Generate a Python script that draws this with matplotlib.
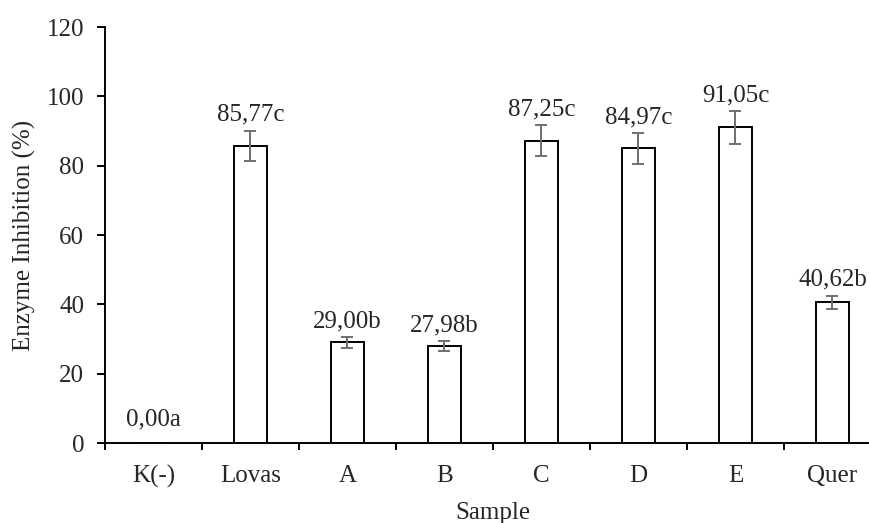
import matplotlib
matplotlib.use("Agg")
import matplotlib.pyplot as plt

plt.rcParams['font.family'] = ['Liberation Serif', 'DejaVu Serif']

categories = ["K(-)", "Lovas", "A", "B", "C", "D", "E", "Quer"]
values = [0.00, 85.77, 29.00, 27.98, 87.25, 84.97, 91.05, 40.62]
errors = [0.0, 4.3, 1.5, 1.3, 4.4, 4.4, 4.7, 1.9]
labels = ["0,00a", "85,77c", "29,00b", "27,98b", "87,25c", "84,97c", "91,05c", "40,62b"]
y_ticks = [0, 20, 40, 60, 80, 100, 120]

FS = 18
TXT = '#262626'
W, H = 870, 523
fig = plt.figure(figsize=(W / 100, H / 100), dpi=100)
ax = fig.add_axes([105 / W, (H - 443) / H, 776 / W, 416 / H])

x = list(range(len(categories)))
ax.bar(x, values, width=0.33, color='white', edgecolor='black', linewidth=1.4, zorder=2)
ex = [xi for xi, e in zip(x, errors) if e > 0]
ev = [v for v, e in zip(values, errors) if e > 0]
ee = [e for e in errors if e > 0]
ax.errorbar(ex, ev, yerr=ee, fmt='none', ecolor='#6e6e6e', elinewidth=1.4,
            capsize=4.5, capthick=1.4, zorder=3)

for xi, v, e, lab in zip(x, values, errors, labels):
    off = 3.5 if e > 0 else 9.0
    ax.annotate(lab, (xi, v + e), xytext=(0, off), textcoords='offset points',
                ha='center', va='bottom', fontsize=FS, color=TXT)

ax.set_xlim(-0.5, len(categories) - 0.5)
ax.set_ylim(0, 120)
ax.set_yticks(y_ticks)
ax.set_xticks(x)
ax.set_xticklabels(categories)
ax.set_xticks([i - 0.5 for i in range(len(categories) + 1)], minor=True)
ax.tick_params(axis='x', which='major', length=0, pad=16, labelsize=FS, labelcolor=TXT)
ax.tick_params(axis='x', which='minor', length=5, width=1.4, direction='out')
ax.tick_params(axis='y', length=6, width=1.4, direction='out', labelsize=FS, labelcolor=TXT, pad=9)

for s in ['top', 'right']:
    ax.spines[s].set_visible(False)
for s in ['left', 'bottom']:
    ax.spines[s].set_linewidth(1.4)

ax.set_ylabel("Enzyme Inhibition (%)", fontsize=FS, color=TXT, labelpad=8)
ax.set_xlabel("Sample", fontsize=FS, color=TXT, labelpad=10)

fig.savefig("out.png", dpi=100)
